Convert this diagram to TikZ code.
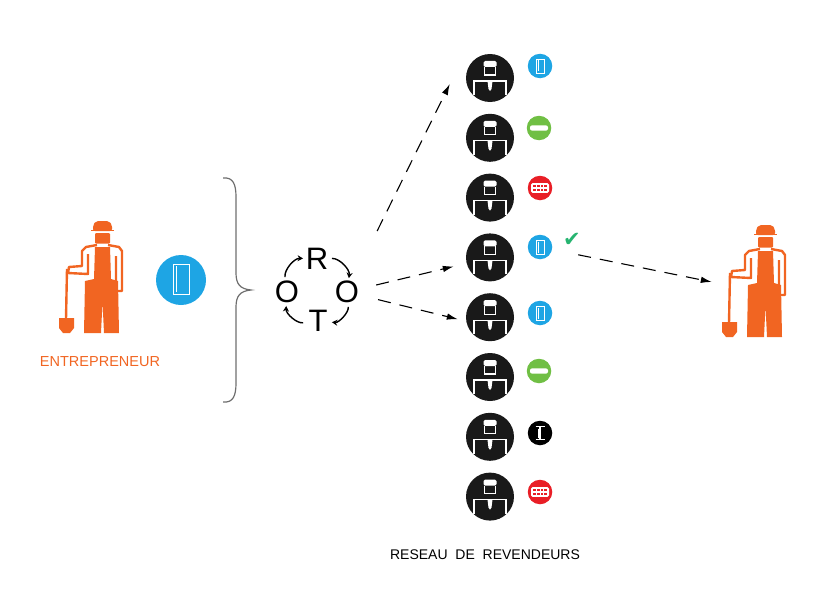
\documentclass[tikz,border=0pt]{standalone}
\usepackage{fontspec}
\setmainfont{Liberation Sans}
\newfontfamily\symfont{DejaVu Sans}
\usetikzlibrary{positioning, arrows.meta}
\usepackage{xcolor}
\definecolor{workerorange}{RGB}{241,101,34}
\definecolor{badgeblue}{RGB}{30,165,228}
\definecolor{badgegreen}{RGB}{112,191,68}
\definecolor{badgered}{RGB}{233,30,38}
\definecolor{tickgreen}{RGB}{38,180,112}
\definecolor{bracegray}{RGB}{110,110,110}

\begin{document}
\begin{tikzpicture}[
  x=1pt, y=-1pt,
  every node/.style={inner sep=0pt},
  person/.style={circle, fill=black!90, minimum size=48pt},
  badge/.style={circle, minimum size=24.5pt},
  letter/.style={font=\fontsize{31}{31}\selectfont},
  flow/.style={-{Latex[length=11pt,width=6.5pt]}, line width=1.1pt, dash pattern=on 13pt off 9pt},
  turn/.style={-{Stealth[length=5.5pt,width=6pt]}, line width=1.4pt, shorten <=15pt, shorten >=14pt,
    bend left=50, looseness=1.3},
  worker/.pic={
    % cap, face
    \fill[workerorange, rounded corners=2pt] (-8,-47) -- (-8,-53) -- (-5,-57) -- (8,-57) -- (11,-53) -- (11,-47) -- cycle;
    \fill[workerorange] (-10,-48.5) rectangle (13,-46.6);
    \fill[workerorange, rounded corners=1pt] (-6,-45) rectangle (9,-34.5);
    % shirt outline
    \draw[workerorange, line width=2.4pt, line join=round]
      (-4,-33) -- (-15,-31) -- (-19,-27) -- (-19,-12) -- (-32,-11) -- (-33,-5) -- (-13,-4) -- (-13,-24);
    \draw[workerorange, line width=2.4pt, line join=round]
      (7,-33) -- (18,-31) -- (21,-27) -- (21,13) -- (15,13) -- (15,-22);
    % overalls
    \fill[workerorange] (-6,-31) -- (9,-31) -- (10,1) -- (17,3) -- (18,55) -- (3,55) -- (1.5,24)
      -- (0,55) -- (-17,55) -- (-16,3) -- (-7,1) -- cycle;
    % shovel
    \draw[workerorange, line width=2.4pt] (-34,-9) -- (-35,41);
    \fill[workerorange] (-42,40) -- (-27,40) -- (-27,50) -- (-31,55) -- (-38,55) -- (-42,50) -- cycle;
  },
  seller/.pic={
    \fill[white, rounded corners=1.5pt] (-6.5,-11) -- (-6.5,-17) -- (6.5,-17) -- (6.5,-11) -- cycle;
    \draw[white, line width=1.1pt] (-5.5,-11) -- (-5.5,-3) -- (5.5,-3) -- (5.5,-11);
    \draw[white, line width=1.1pt] (-16,17) -- (-16,3) -- (16,3) -- (16,17);
    \fill[white] (-2.5,3) -- (2.5,3) -- (1.5,11) -- (0,13) -- (-1.5,11) -- cycle;
  },
  panel/.pic={
    \draw[white, line width=0.9pt] (-4,-7) rectangle (4,7);
    \draw[white, line width=0.6pt] (-1.8,-5.5) -- (-1.8,5.5);
  },
  patty/.pic={
    \fill[white, rounded corners=2pt] (-9,-2.6) rectangle (9,2.6);
  },
  grill/.pic={
    \fill[white, rounded corners=1.5pt] (-9,-4.8) rectangle (9,4.8);
    \foreach \u in {-5.8,-1.9,1.9,5.8} {
      \fill[badgered] (\u-1.4,-3) rectangle (\u+1.4,-0.6);
      \fill[badgered] (\u-1.4,0.8) rectangle (\u+1.4,3.2);
    }
  },
  pillar/.pic={
    \draw[white, line width=1.2pt] (-4.5,-6.5) -- (4.5,-6.5) (0,-6.5) -- (0,6.5) (-4.5,6.5) -- (4.5,6.5);
    \draw[white, line width=0.6pt] (-2.2,-4.5) -- (-2.2,4.5);
  }
]
\useasboundingbox (0,0) rectangle (827,594);

% entrepreneur and his product
\pic at (101,278) {worker};
\node[text=workerorange, font=\fontsize{14.5}{16}\selectfont] (boss) at (100,362) {ENTREPRENEUR};
\node[badge, fill=badgeblue, minimum size=50pt] (door) at (181,280) {};
\draw[white, line width=0.9pt] (173,264) rectangle (189,294);
\draw[white, line width=0.6pt] (176,266) -- (176,292);

% brace
\draw[bracegray, line width=1.2pt]
  (223,178) .. controls (233,177) and (236,184) .. (236,197) -- (236,273)
  .. controls (236,284) and (240,289) .. (251,290)
  .. controls (240,291) and (236,296) .. (236,307) -- (236,383)
  .. controls (236,396) and (233,403) .. (223,402);

% ROTO cycle
\node[letter] (r) at (317,259) {R};
\node[letter] (oright) at (347,292) {O};
\node[letter] (t) at (318,321) {T};
\node[letter] (oleft) at (287,292) {O};
\draw[turn] (oleft.center) to (r.center);
\draw[turn] (r.center) to (oright.center);
\draw[turn] (oright.center) to (t.center);
\draw[turn] (t.center) to (oleft.center);

% network of resellers
\node[person] (r1) at (490,78) {};
\node[person, below=11.4pt of r1] (r2) {};
\node[person, below=11.4pt of r2] (r3) {};
\node[person, below=11.4pt of r3] (r4) {};
\node[person, below=11.4pt of r4] (r5) {};
\node[person, below=11.4pt of r5] (r6) {};
\node[person, below=11.4pt of r6] (r7) {};
\node[person, below=11.4pt of r7] (r8) {};
\foreach \i in {1,...,8} \pic at (r\i.center) {seller};
\node[font=\fontsize{14}{16}\selectfont, below=29pt of r8, xshift=-5pt] (network) {RESEAU~~DE~~REVENDEURS};

\node[badge, fill=badgeblue] (b1) at (540,66) {};
\node[badge, fill=badgegreen] (b2) at (539,128) {};
\node[badge, fill=badgered] (b3) at (540,188) {};
\node[badge, fill=badgeblue] (b4) at (540,247) {};
\node[badge, fill=badgeblue] (b5) at (540,313) {};
\node[badge, fill=badgegreen] (b6) at (539,371) {};
\node[badge, fill=black] (b7) at (540,433) {};
\node[badge, fill=badgered] (b8) at (540,492) {};
\pic at (b1) {panel};
\pic at (b2) {patty};
\pic at (b3) {grill};
\pic at (b4) {panel};
\pic at (b5) {panel};
\pic at (b6) {patty};
\pic at (b7) {pillar};
\pic at (b8) {grill};
\node[text=tickgreen, font=\symfont\fontsize{21}{21}\selectfont] (tick) at (572,240) {✔};

% customer
\pic at (764,282) {worker};
\node[minimum width=62pt, minimum height=113pt] (client) at (753,282) {};

\draw[flow, shorten <=68pt] (oright.center) -- ([xshift=-16pt,yshift=-6pt]r1.west);
\draw[flow, shorten <=30pt] (oright.center) -- ([xshift=-12pt,yshift=-9pt]r4.west);
\draw[flow, shorten <=32pt] (oright.center) -- ([xshift=-8pt,yshift=-2pt]r5.west);
\draw[flow, shorten <=39pt] (b4.center) -- ([xshift=-10pt]client.west);
\end{tikzpicture}
\end{document}
